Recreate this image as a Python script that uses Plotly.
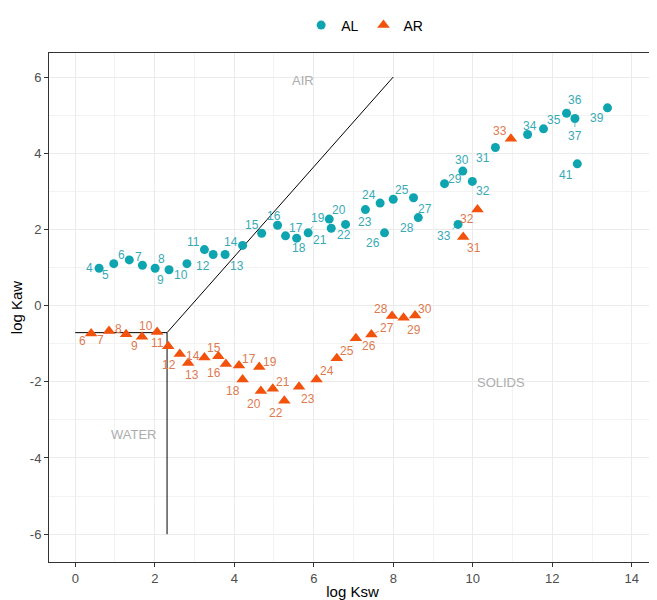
import plotly.graph_objects as go

# ---- data ----
al_ids = [4, 5, 6, 7, 8, 9, 10, 11, 12, 13, 14, 15, 16, 17, 18, 19, 20, 21, 22, 23, 24, 25, 26, 27, 28,
          29, 30, 31, 32, 33, 34, 35, 36, 37, 39, 41]
al_ksw = [0.60, 0.97, 1.36, 1.69, 2.01, 2.36, 2.81, 3.25, 3.47, 3.77, 4.21, 4.69, 5.09, 5.29, 5.57, 5.86,
          6.39, 6.44, 6.80, 7.30, 7.67, 8.00, 7.78, 8.51, 8.63, 9.29, 9.75, 10.57, 9.99, 9.63, 11.38,
          11.78, 12.36, 12.57, 13.39, 12.63]
al_kaw = [0.98, 1.10, 1.20, 1.06, 0.98, 0.94, 1.10, 1.47, 1.34, 1.34, 1.58, 1.90, 2.11, 1.83, 1.77, 1.91,
          2.27, 2.03, 2.13, 2.52, 2.69, 2.79, 1.91, 2.83, 2.31, 3.20, 3.53, 4.15, 3.26, 2.13, 4.49,
          4.64, 5.05, 4.91, 5.19, 3.72]

ar_ids = list(range(6, 34))
ar_ksw = [0.40, 0.85, 1.28, 1.68, 2.06, 2.34, 2.63, 2.84, 3.25, 3.60, 3.79, 4.12, 4.21, 4.63, 4.67,
          4.97, 5.26, 5.63, 6.07, 6.58, 7.06, 7.45, 7.97, 8.26, 8.55, 9.76, 10.12, 10.96]
ar_kaw = [-0.73, -0.67, -0.75, -0.82, -0.69, -1.07, -1.27, -1.51, -1.36, -1.33, -1.53, -1.57, -1.94,
          -1.61, -2.24, -2.18, -2.50, -2.13, -1.94, -1.38, -0.86, -0.76, -0.27, -0.32, -0.26, 1.80,
          2.52, 4.38]

# boundary lines (log Ksw, log Kaw)
corner_ksw, corner_kaw = 2.31, -0.71
hline_ksw = [0.0, corner_ksw]
hline_kaw = [corner_kaw, corner_kaw]
vline_ksw = [corner_ksw, corner_ksw]
vline_kaw = [corner_kaw, -6.0]
diag_ksw = [corner_ksw, 8.0]
diag_kaw = [corner_kaw, 6.0]

region_names = ["AIR", "WATER", "SOLIDS"]
region_ksw = [5.73, 1.47, 10.7]
region_kaw = [5.9, -3.38, -2.03]

x_tickvals = [0, 2, 4, 6, 8, 10, 12, 14]
x_ticktext = ["0", "2", "4", "6", "8", "10", "12", "14"]
y_tickvals = [-6, -4, -2, 0, 2, 4, 6]
y_ticktext = ["-6", "-4", "-2", "0", "2", "4", "6"]

# ---- label placement offsets (pixels: dx right, dy down) ----
al_off = {4: (-10, 0), 5: (-8, 11), 6: (-8, -5), 7: (-4, -8), 8: (6, -9), 9: (-9, 10), 10: (-6, 11),
          11: (-11, -8), 12: (-10, 11), 13: (12, 11), 14: (-12, -3), 15: (-10, -8), 16: (-4, -9),
          17: (10, -8), 18: (2, 10), 19: (10, -15), 20: (10, -9), 21: (-11, 12), 22: (-2, 11),
          23: (0, 12), 24: (-11, -8), 25: (9, -9), 26: (-12, 10), 27: (11, 11), 28: (-11, 10),
          29: (10, -5), 30: (-1, -11), 31: (-12, 11), 32: (11, 10), 33: (-14, 12), 34: (2, -9),
          35: (10, -9), 36: (8, -13), 37: (0, 17), 39: (-11, 10), 41: (-11, 11)}
al_leader = {19, 33, 36, 37}
ar_off = {6: (-9, 8), 7: (-9, 9), 8: (-8, -5), 9: (-8, 9), 10: (-11, -6), 11: (-11, -3), 12: (-11, 11),
          13: (4, 12), 14: (-11, -1), 15: (-4, -8), 16: (-12, 9), 17: (10, -6), 18: (-10, 11),
          19: (11, -5), 20: (-7, 13), 21: (10, -7), 22: (-8, 12), 23: (9, 12), 24: (10, -9),
          25: (10, -7), 26: (13, 8), 27: (16, -7), 28: (-11, -7), 29: (10, 12), 30: (10, -7),
          31: (11, 11), 32: (-11, 9), 33: (-11, -8)}
ar_leader = {27}

TEAL = "#0FA5B0"
TEAL_TXT = "#38AAB6"
ORANGE = "#F2520C"
ORANGE_TXT = "#DD7A50"
GRID = "#EBEBEB"
FONT = "Liberation Sans, Arial, sans-serif"

fig = go.Figure()

for xs, ys in [(hline_ksw, hline_kaw), (vline_ksw, vline_kaw), (diag_ksw, diag_kaw)]:
    fig.add_trace(go.Scatter(x=xs, y=ys, mode="lines", line=dict(color="black", width=1),
                             showlegend=False, hoverinfo="skip"))

fig.add_trace(go.Scatter(x=al_ksw, y=al_kaw, mode="markers", name="AL",
                         marker=dict(symbol="circle", size=9, color=TEAL)))
fig.add_trace(go.Scatter(x=ar_ksw, y=ar_kaw, mode="markers", name="AR",
                         marker=dict(symbol="triangle-up", size=11, color=ORANGE)))

annotations = []
for ids, xs, ys, off, leaders, col in [(al_ids, al_ksw, al_kaw, al_off, al_leader, TEAL_TXT),
                                       (ar_ids, ar_ksw, ar_kaw, ar_off, ar_leader, ORANGE_TXT)]:
    for i, x, y in zip(ids, xs, ys):
        dx, dy = off[i]
        annotations.append(dict(
            x=x, y=y, xref="x", yref="y", text=str(i), showarrow=True,
            ax=dx, ay=dy, arrowhead=0, arrowwidth=0.8, standoff=3,
            arrowcolor=col if i in leaders else "rgba(0,0,0,0)",
            font=dict(size=12, color=col, family=FONT)))

for name, x, y in zip(region_names, region_ksw, region_kaw):
    annotations.append(dict(x=x, y=y, xref="x", yref="y", text=name, showarrow=False,
                            font=dict(size=13, color="#ADADAD", family=FONT)))

axis_common = dict(
    showgrid=True, gridcolor=GRID, gridwidth=1,
    minor=dict(dtick=1, tick0=0, showgrid=True, gridcolor="#F3F3F3", gridwidth=1),
    showline=True, linecolor="#333333", linewidth=1, mirror=True,
    ticks="outside", ticklen=4, tickcolor="#333333",
    tickfont=dict(size=13, color="#4D4D4D", family=FONT),
    zeroline=False, automargin=False, tickmode="array",
)

# page body adds an 8px margin; figure size/margins compensate for it
fig.update_layout(
    width=649, height=592,
    plot_bgcolor="white", paper_bgcolor="white",
    margin=dict(l=41, r=1, t=37, b=38),
    font=dict(family=FONT),
    xaxis=dict(range=[-0.66, 14.61], tickvals=x_tickvals, ticktext=x_ticktext,
               title=dict(text="log Ksw", font=dict(size=15, color="black"), standoff=4),
               **axis_common),
    yaxis=dict(range=[-6.73, 6.63], tickvals=y_tickvals, ticktext=y_ticktext,
               title=dict(text="log Kaw", font=dict(size=15, color="black"), standoff=6),
               **axis_common),
    legend=dict(orientation="h", x=0.52, xanchor="center", y=1.054, yanchor="middle",
                font=dict(size=14, color="black"), itemwidth=30),
    annotations=annotations,
)

fig.write_html("out.html")
